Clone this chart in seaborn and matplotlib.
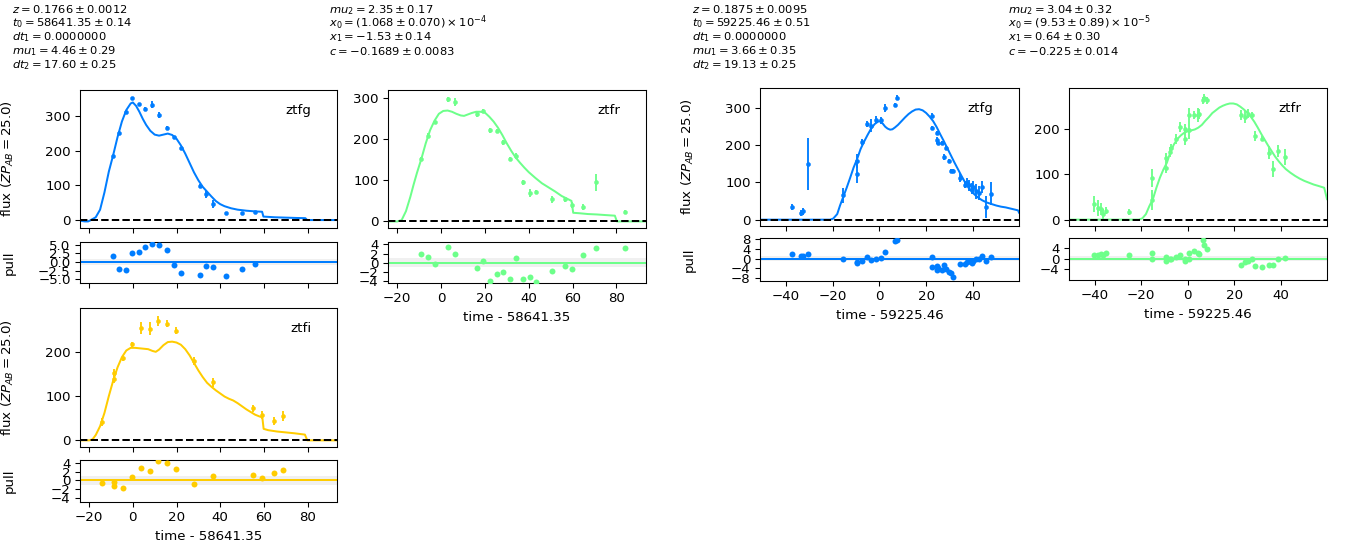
import matplotlib
matplotlib.use("Agg")
import matplotlib.pyplot as plt
import seaborn as sns

# ---------------- SN 1 (t0 = 58641.35) ----------------
s1_g_time = [-9.1, -6.4, -3.3, -0.3, 2.7, 5.6, 8.8, 11.8, 15.8, 18.7, 21.9, 30.7, 33.7, 36.7, 42.8, 49.8, 55.8]
s1_g_flux = [184, 253, 312, 352, 335, 321, 333, 304, 267, 240, 208, 98, 75, 47, 20, 19, 24]
s1_g_err = [4, 4, 4, 4, 4, 7, 10, 8, 4, 4, 4, 5, 10, 12, 3, 3, 3]
s1_g_pull = [1.8, -1.9, -2.2, 2.5, 3.0, 4.4, 5.3, 4.9, 3.4, -0.9, -3.3, -3.7, -1.3, -1.6, -4.1, -1.9, -0.5]
s1_g_mtime = [-24.2, -22, -20.5, -19.5, -17, -15, -13, -11, -9, -7, -5, -3, -1, 0, 1.5, 3, 4.6, 6.1, 8, 10,
              12, 14, 16, 18, 20, 22, 24, 26, 28, 30, 32, 34, 36, 38, 40, 42, 45, 48, 52, 56, 59.2, 59.8,
              65, 70, 75, 79, 79.8, 93.5]
s1_g_mflux = [-2, -4, -4, -1, 8, 30, 80, 140, 188, 240, 285, 318, 337, 340, 330, 313, 292, 275, 258, 247,
              244, 247, 250, 246, 235, 216, 192, 165, 138, 115, 96, 82, 68, 55, 46, 40, 34, 30, 27, 25, 24, 10,
              8, 7, 6, 5.5, 0, 0]

s1_r_time = [-9.0, -6.0, -2.9, 3.1, 6.3, 16.2, 19.3, 22.4, 25.3, 28.3, 31.4, 34.3, 37.4, 40.6, 43.5, 50.5,
             56.7, 59.7, 64.8, 70.9, 83.9]
s1_r_flux = [152, 209, 243, 297, 290, 261, 268, 222, 220, 193, 151, 159, 95, 69, 71, 54, 54, 40, 35, 95, 22]
s1_r_err = [6, 6, 5, 6, 10, 6, 5, 6, 5, 6, 5, 8, 6, 10, 5, 8, 6, 8, 8, 20, 5]
s1_r_pull = [1.8, 1.2, -0.2, 3.5, 2.0, -1.2, 0.4, -3.9, -2.5, -2.0, -3.6, 1.1, -3.6, -3.0, -4.1, -1.7, -0.7,
             -1.3, 1.6, 3.3, 3.3]
s1_r_mtime = [-24.2, -20, -18, -16, -14, -12.5, -11, -9, -7, -5, -3, -1, 1, 3, 5, 7, 9, 10.5, 12, 14, 16, 18,
              20, 22, 24, 26, 28, 30, 32, 34, 36, 38, 40, 43, 46, 49, 52, 55, 58, 59.5, 60.3, 63, 67, 71, 75,
              79.3, 80.2, 93.5]
s1_r_mflux = [0, 0, 3, 25, 60, 90, 118, 152, 190, 222, 245, 262, 269, 270, 267, 262, 258, 257, 260, 264, 267,
              267, 265, 255, 243, 228, 210, 190, 172, 156, 143, 131, 120, 106, 93, 83, 73, 62, 54, 50, 21, 20,
              18, 17, 15.5, 14, 0, 0]

s1_i_time = [-14.2, -8.4, -8.4, -4.3, -0.3, 3.7, 7.9, 11.7, 15.8, 19.8, 28.0, 36.8, 54.9, 59.1, 64.8, 68.9]
s1_i_flux = [42, 138, 153, 186, 217, 254, 252, 269, 263, 248, 180, 131, 73, 57, 44, 55]
s1_i_err = [9, 9, 8, 6, 6, 14, 15, 11, 8, 8, 9, 11, 8, 9, 9, 11]
s1_i_pull = [-0.5, -1.3, -0.3, -1.7, 0.7, 2.8, 2.2, 4.4, 4.1, 2.6, -0.9, 1.0, 1.2, 0.5, 1.7, 2.4]
s1_i_mtime = [-24.2, -20, -18.5, -17, -15, -13, -11, -9, -7, -5, -3, -1, 1, 3, 5, 7, 9, 10.5, 12, 14, 16, 18,
              20, 22, 24, 26, 28, 30, 32, 34, 36, 38, 40, 42, 44, 46, 48, 50, 52, 54, 56, 58, 59.3, 59.9, 62,
              66, 70, 74, 78.8, 79.9, 93.5]
s1_i_mflux = [0, 0, 2, 12, 32, 62, 100, 135, 165, 188, 203, 209, 209, 208, 207, 206, 202, 200, 205, 215, 222,
              223, 221, 216, 206, 192, 175, 158, 143, 130, 121, 113, 106, 99, 94, 90, 84, 77, 70, 64, 58, 54,
              52, 26, 23, 20, 18, 16, 13, 0, 0]

s1_left = ["$z = 0.1766 \\pm 0.0012$", "$t_0 = 58641.35 \\pm 0.14$", "$dt_1 = 0.0000000$",
           "$mu_1 = 4.46 \\pm 0.29$", "$dt_2 = 17.60 \\pm 0.25$"]
s1_right = ["$mu_2 = 2.35 \\pm 0.17$", "$x_0 = (1.068 \\pm 0.070) \\times 10^{-4}$",
            "$x_1 = -1.53 \\pm 0.14$", "$c = -0.1689 \\pm 0.0083$"]

# ---------------- SN 2 (t0 = 59225.46) ----------------
s2_g_time = [-37.5, -33.5, -32.5, -30.5, -15.5, -9.5, -9.5, -7.5, -5.4, -3.6, -1.6, 0.7, 2.6, 6.6, 7.7, 22.6,
             22.6, 24.5, 24.5, 25.2, 26.6, 27.6, 28.5, 29.6, 30.6, 31.6, 34.5, 36.8, 37.6, 38.5, 39.5, 40.2,
             41.3, 42.5, 43.7, 45.6, 47.6]
s2_g_flux = [34, 18, 22, 150, 65, 158, 124, 210, 256, 253, 269, 267, 300, 309, 328, 280, 246, 233, 213, 207,
             207, 168, 194, 159, 132, 130, 113, 94, 99, 92, 83, 88, 76, 72, 88, 34, 70]
s2_g_err = [9, 8, 10, 70, 20, 18, 25, 8, 8, 18, 10, 10, 10, 6, 6, 6, 5, 6, 10, 6, 5, 8, 5, 5, 5, 5, 12, 10,
            12, 15, 15, 15, 20, 18, 15, 30, 30]
s2_g_pull = [1.8, 1.1, 1.1, 1.8, 0.1, -1.2, -1.7, -1.1, 0.8, -0.4, 0.1, 0.4, 3.0, 7.5, 7.8, 0.6, -3.2, -2.8,
             -4.7, -3.9, -4.6, -2.5, -4.3, -5.3, -5.7, -7.4, -2.1, -2.1, -1.5, -1.1, -1.7, -0.8, -0.1, 0.1,
             1.0, -0.8, 0.6]
s2_g_mtime = [-51, -21, -19.7, -18, -16.8, -15.5, -14, -12.5, -11, -9.5, -8, -6.5, -5, -3.5, -2, -0.5, 0.5,
              1.5, 2.5, 3.5, 4.6, 5.6, 6.7, 8, 9.5, 11, 12.5, 14, 15.5, 17, 18.5, 20, 21.5, 23, 24.5, 26,
              27.5, 29, 30.5, 32, 33.5, 35, 36.5, 38, 39.5, 41, 42.5, 44, 46, 48, 50, 52, 54, 56, 58, 59.3,
              59.7]
s2_g_mflux = [0, 0, 3, 15, 38, 60, 85, 112, 140, 163, 190, 210, 228, 245, 257, 264, 264, 258, 250, 245, 242,
              243, 248, 255, 265, 275, 284, 291, 296, 297, 294, 287, 277, 265, 249, 230, 212, 193, 174, 155,
              137, 119, 102, 87, 75, 66, 58, 52, 46, 42, 38, 35, 33, 30, 27, 25, 19]

s2_r_time = [-40.1, -38.4, -37.2, -36.2, -35.2, -25.4, -15.2, -15.2, -9.5, -9.2, -7.7, -7.1, -5.3, -3.3, -1.4,
             -1.3, 0.7, 0.7, 2.6, 4.4, 4.8, 6.4, 7.0, 8.1, 22.6, 24.6, 25.6, 27.7, 28.7, 31.7, 34.7, 36.6,
             38.6, 41.6]
s2_r_flux = [34, 26, 23, 13, 20, 17, 92, 44, 114, 136, 149, 157, 178, 204, 200, 178, 230, 196, 229, 229, 232,
             262, 267, 262, 229, 226, 233, 229, 183, 178, 147, 111, 150, 138]
s2_r_err = [18, 18, 13, 11, 8, 7, 20, 22, 11, 11, 11, 10, 11, 11, 9, 15, 15, 18, 9, 15, 10, 8, 8, 8, 11, 13,
            9, 8, 11, 6, 14, 18, 13, 18]
s2_r_pull = [1.5, 1.3, 1.8, 1.5, 2.2, 1.5, 2.2, -0.1, -1.0, 0.6, 0.0, 0.0, 0.5, 1.5, 0.0, -1.0, 2.2, 0.0,
             3.1, 2.2, 1.8, 7.3, 5.1, 3.8, -2.3, -1.4, -1.0, 0.0, -2.9, -3.3, -2.3, -2.4, 0.0, 0.4]
s2_r_mtime = [-51, -21, -19.5, -18, -16.5, -15, -13.5, -12, -10.5, -9, -7.5, -6, -4.5, -3, -1.5, 0, 1.5, 3,
              4.5, 6, 7.5, 9, 10.5, 12, 13.5, 15, 16.5, 18, 19.5, 21, 22.5, 24, 25.5, 27, 28.5, 30, 31.5, 33,
              34.5, 36, 37.5, 39, 40.5, 42, 44, 46, 48, 50, 52, 54, 56, 58.5, 59.7]
s2_r_mflux = [0, 0, 3, 12, 30, 45, 70, 92, 110, 125, 148, 165, 177, 185, 191, 194, 196, 198, 202, 208, 217,
              225, 234, 240, 246, 250, 253, 255, 255, 253, 248, 242, 235, 226, 215, 202, 188, 175, 162, 150,
              138, 128, 119, 111, 103, 96, 90, 85, 81, 77, 74, 70, 45]

s2_left = ["$z = 0.1875 \\pm 0.0095$", "$t_0 = 59225.46 \\pm 0.51$", "$dt_1 = 0.0000000$",
           "$mu_1 = 3.66 \\pm 0.35$", "$dt_2 = 19.13 \\pm 0.25$"]
s2_right = ["$mu_2 = 3.04 \\pm 0.32$", "$x_0 = (9.53 \\pm 0.89) \\times 10^{-5}$",
            "$x_1 = 0.64 \\pm 0.30$", "$c = -0.225 \\pm 0.014$"]

# ---------------- drawing ----------------
W, H, DPI = 1347, 545, 96
fig = plt.figure(figsize=(W / DPI, H / DPI), dpi=DPI)
plt.rcParams["font.size"] = 10

jet = plt.get_cmap("jet")
band_wave = {"ztfg": 4746.0, "ztfr": 6366.0, "ztfi": 7867.0}
band_color = {b: jet((w - 3000.0) / 7000.0) for b, w in band_wave.items()}

FLUX_LABEL = "flux ($ZP_{AB} = 25.0$)"


def box(x0, y0, x1, y1):
    return [x0 / W, 1 - y1 / H, (x1 - x0) / W, (y1 - y0) / H]


def panel(main_box, pull_box, band, time, flux, err, pull, mtime, mflux,
          xlim, ylim, yticks, pylim, pticks, xticks, xlabel=None, ylabels=False):
    color = band_color[band]
    ax = fig.add_axes(box(*main_box))
    ax2 = fig.add_axes(box(*pull_box))
    width = main_box[2] - main_box[0]
    label_x = -64.0 / width

    ax.errorbar(time, flux, yerr=err, ls="None", marker="o", ms=3.0, mew=0.4,
                color=color, elinewidth=1.4)
    sns.lineplot(x=mtime, y=mflux, ax=ax, color=color, lw=1.5,
                 estimator=None, sort=False, legend=False)
    ax.axhline(0.0, ls="--", color="k", lw=1.5)
    ax.text(0.9, 0.9, band, ha="right", va="top", transform=ax.transAxes)
    ax.set_xlim(*xlim)
    ax.set_ylim(*ylim)
    ax.set_yticks(yticks)
    ax.set_xticks(xticks)
    ax.tick_params(labelbottom=False)
    ax.set_xlabel("")
    ax.set_ylabel(FLUX_LABEL if ylabels else "")
    ax.yaxis.set_label_coords(label_x, 0.5)

    ax2.axhspan(-1.0, 1.0, color="0.94", lw=0)
    ax2.axhline(0.0, color=color, lw=1.5)
    sns.scatterplot(x=time, y=pull, ax=ax2, color=color, s=20, linewidth=0,
                    legend=False, zorder=3)
    ax2.set_xlim(*xlim)
    ax2.set_ylim(*pylim)
    ax2.set_yticks(pticks)
    ax2.set_xticks(xticks)
    ax2.set_ylabel("pull" if ylabels else "")
    ax2.yaxis.set_label_coords(label_x, 0.5)
    if xlabel is None:
        ax2.tick_params(labelbottom=False)
        ax2.set_xlabel("")
    else:
        ax2.set_xlabel(xlabel)
    return ax, ax2


xl1 = (-24.2, 93.5)
xt1 = [-20, 0, 20, 40, 60, 80]
xl2 = (-51.0, 59.7)
xt2 = [-40, -20, 0, 20, 40]

panel((80, 90, 337, 228), (80, 242, 337, 283), "ztfg",
      s1_g_time, s1_g_flux, s1_g_err, s1_g_pull, s1_g_mtime, s1_g_mflux,
      xl1, (-23, 376), [0, 100, 200, 300], (-6.1, 5.8), [-5, -2.5, 0, 2.5, 5], xt1,
      xlabel=None, ylabels=True)
panel((388, 90, 646, 228), (388, 242, 646, 283), "ztfr",
      s1_r_time, s1_r_flux, s1_r_err, s1_r_pull, s1_r_mtime, s1_r_mflux,
      xl1, (-16, 320), [0, 100, 200, 300], (-4.4, 4.5), [-4, -2, 0, 2, 4], xt1,
      xlabel="time - 58641.35")
panel((80, 308, 337, 447), (80, 460, 337, 502), "ztfi",
      s1_i_time, s1_i_flux, s1_i_err, s1_i_pull, s1_i_mtime, s1_i_mflux,
      xl1, (-15, 299), [0, 100, 200], (-5.0, 4.7), [-4, -2, 0, 2, 4], xt1,
      xlabel="time - 58641.35", ylabels=True)

panel((760, 88, 1019, 226), (760, 238, 1019, 281), "ztfg",
      s2_g_time, s2_g_flux, s2_g_err, s2_g_pull, s2_g_mtime, s2_g_mflux,
      xl2, (-17, 354), [0, 100, 200, 300], (-9.2, 8.6), [-8, -4, 0, 4, 8], xt2,
      xlabel="time - 59225.46", ylabels=True)
panel((1069, 88, 1327, 226), (1069, 238, 1327, 280), "ztfr",
      s2_r_time, s2_r_flux, s2_r_err, s2_r_pull, s2_r_mtime, s2_r_mflux,
      xl2, (-14, 289), [0, 100, 200], (-8.1, 7.9), [-4, 0, 4], xt2,
      xlabel="time - 59225.46")

# fitted-parameter summary above each light curve
baselines = [12.7, 26.7, 40.4, 54.6, 68.6]
for x0, lines in ((12, s1_left), (329, s1_right), (692, s2_left), (1008, s2_right)):
    for y, line in zip(baselines, lines):
        fig.text(x0 / W, 1 - y / H, line, ha="left", va="baseline", fontsize=8.6)

fig.savefig("out.png", dpi=DPI)
